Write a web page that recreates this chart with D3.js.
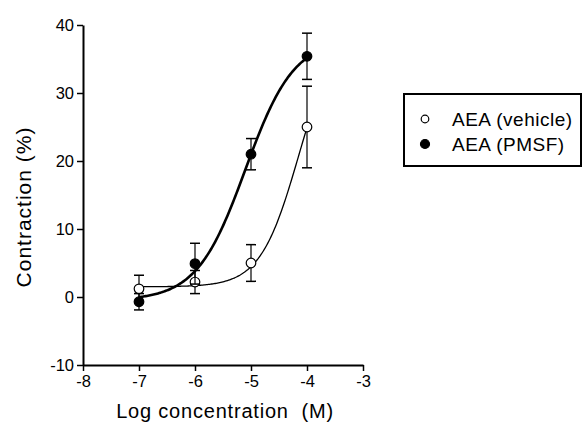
<!DOCTYPE html>
<html>
<head>
<meta charset="utf-8">
<script src="https://cdn.jsdelivr.net/npm/d3@7"></script>
<style>
  body { margin: 0; background: #fff; }
  svg text { font-family: "Liberation Sans", Arial, sans-serif; fill: #000; }
</style>
</head>
<body>
<svg id="chart" width="583" height="422"></svg>
<script>
// log concentration (M)
var logConc = [-7, -6, -5, -4];
// AEA (vehicle): mean and SEM
var vehicleMean = [1.2, 2.2, 5.0, 25.0];
var vehicleErr = [2.0, 1.7, 2.7, 6.0];
// AEA (PMSF): mean and SEM
var pmsfMean = [-0.7, 4.9, 21.0, 35.4];
var pmsfErr = [1.2, 3.0, 2.3, 3.4];
// fitted sigmoid parameters: bottom, top, logEC50, hill slope
var vehicleFit = [1.5, 40, -4.15, 1.27];
var pmsfFit = [-0.5, 38, -5.1, 1.0];
var xTicks = [-8, -7, -6, -5, -4, -3];
var yTicks = [-10, 0, 10, 20, 30, 40];

var svg = d3.select('#chart');
var x = d3.scaleLinear().domain([-8, -3]).range([83, 363]);
var y = d3.scaleLinear().domain([-10, 40]).range([365, 25]);
var fmt = function(d){ return String(d); }; // plain hyphen minus

var xAxis = svg.append('g').attr('transform', 'translate(0,365)')
  .call(d3.axisBottom(x).tickValues(xTicks).tickSize(6).tickSizeOuter(0).tickFormat(fmt));
var yAxis = svg.append('g').attr('transform', 'translate(83,0)')
  .call(d3.axisLeft(y).tickValues(yTicks).tickSize(6).tickSizeOuter(0).tickFormat(fmt));
[xAxis, yAxis].forEach(function(a){
  a.select('.domain').attr('stroke', '#000').attr('stroke-width', 2);
  a.selectAll('.tick line').attr('stroke', '#000').attr('stroke-width', 1.5);
  a.selectAll('.tick text').attr('font-size', 16.5).attr('fill', '#000')
    .attr('font-family', '"Liberation Sans", Arial, sans-serif');
});
xAxis.selectAll('.tick text').attr('dy', '0.8em');
yAxis.selectAll('.tick text').attr('x', -9);

svg.append('text').attr('x', 225).attr('y', 418).attr('text-anchor', 'middle')
  .attr('font-size', 20).attr('letter-spacing', 0.8).style('white-space', 'pre').text('Log concentration  (M)');
svg.append('text').attr('transform', 'translate(31,207) rotate(-90)').attr('text-anchor', 'middle')
  .attr('font-size', 21).attr('letter-spacing', 1).text('Contraction (%)');

function hill(p){
  return function(v){ return p[0] + (p[1] - p[0]) / (1 + Math.pow(10, (p[2] - v) * p[3])); };
}
var xs = d3.range(-7, -4 + 0.0001, 0.02);
var line = d3.line().x(function(d){ return x(d[0]); }).y(function(d){ return y(d[1]); });
var fv = hill(vehicleFit), fp = hill(pmsfFit);
svg.append('path').attr('d', line(xs.map(function(v){ return [v, fv(v)]; })))
  .attr('fill', 'none').attr('stroke', '#000').attr('stroke-width', 1.3);
svg.append('path').attr('d', line(xs.map(function(v){ return [v, fp(v)]; })))
  .attr('fill', 'none').attr('stroke', '#000').attr('stroke-width', 2.6);

function drawSeries(means, errs, fill){
  var g = svg.append('g');
  logConc.forEach(function(c, i){
    var cx = x(c), lo = y(means[i] - errs[i]), hi = y(means[i] + errs[i]);
    g.append('line').attr('x1', cx).attr('x2', cx).attr('y1', lo).attr('y2', hi).attr('stroke', '#000').attr('stroke-width', 1.2);
    [lo, hi].forEach(function(yy){
      g.append('line').attr('x1', cx - 5).attr('x2', cx + 5).attr('y1', yy).attr('y2', yy).attr('stroke', '#000').attr('stroke-width', 1.5);
    });
  });
  g.selectAll('circle').data(means).enter().append('circle')
    .attr('cx', function(d, i){ return x(logConc[i]); })
    .attr('cy', function(d){ return y(d); })
    .attr('r', 4.8).attr('fill', fill).attr('stroke', '#000').attr('stroke-width', 1.2);
}
drawSeries(vehicleMean, vehicleErr, '#fff');
drawSeries(pmsfMean, pmsfErr, '#000');

// legend
var lg = svg.append('g');
lg.append('rect').attr('x', 404).attr('y', 94).attr('width', 177).attr('height', 72)
  .attr('fill', '#fff').attr('stroke', '#000').attr('stroke-width', 2);
[['AEA (vehicle)', '#fff', 119, 3.8], ['AEA (PMSF)', '#000', 144, 4.5]].forEach(function(e){
  lg.append('circle').attr('cx', 425).attr('cy', e[2]).attr('r', e[3]).attr('fill', e[1]).attr('stroke', '#000').attr('stroke-width', 1.2);
  lg.append('text').attr('x', 452).attr('y', e[2] + 7).attr('font-size', 19).attr('letter-spacing', 0.5).text(e[0]);
});
</script>
</body>
</html>
